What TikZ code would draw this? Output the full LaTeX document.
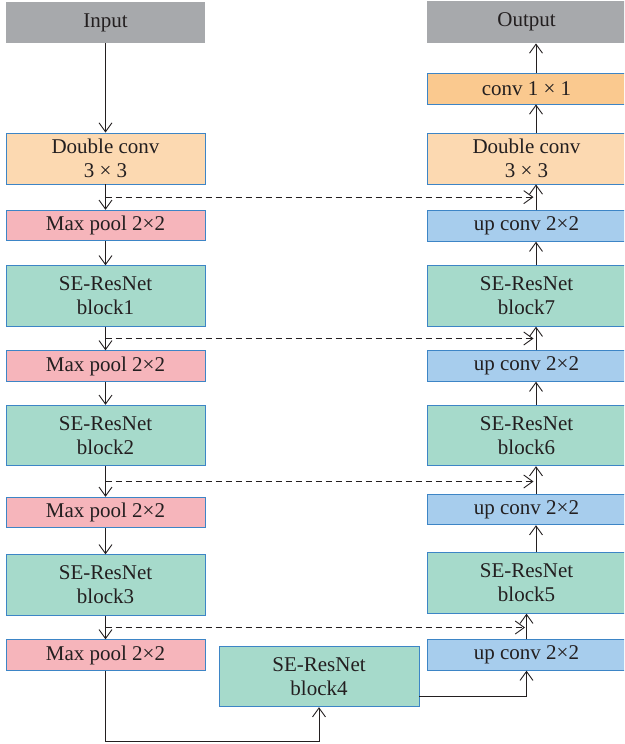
\documentclass[tikz,border=0pt]{standalone}
\usepackage{fontspec}
\setmainfont{Liberation Serif}
\usetikzlibrary{arrows.meta,calc}
\definecolor{grayfill}{HTML}{A7A9AC}
\definecolor{dcfill}{HTML}{FCD9B1}
\definecolor{convfill}{HTML}{FAC98F}
\definecolor{mpfill}{HTML}{F6B5BB}
\definecolor{sefill}{HTML}{A6DACB}
\definecolor{upfill}{HTML}{A7CDED}
\definecolor{bordc}{HTML}{3D85C6}
\definecolor{txt}{HTML}{231F20}
\begin{document}
\begin{tikzpicture}[x=1pt,y=-1pt,
  box/.style={rectangle, draw=bordc, line width=0.9pt, minimum width=199pt, inner sep=0pt, align=center, font=\fontsize{21}{24}\selectfont, text=txt},
  io/.style={box, draw=none, fill=grayfill, minimum height=41pt},
  dcbox/.style={box, fill=dcfill, minimum height=51pt},
  convbox/.style={box, fill=convfill, minimum height=31pt},
  mpbox/.style={box, fill=mpfill, minimum height=30.5pt},
  sebox/.style={box, fill=sefill, minimum height=60.5pt},
  upbox/.style={box, fill=upfill, minimum height=30.5pt},
  arr/.style={draw=txt, line width=0.9pt, -{Straight Barb[length=9pt,width=13pt]}},
  dsh/.style={arr, dash pattern=on 6pt off 4pt}]
\clip (0,0) rectangle (624,744);
\useasboundingbox (0,0) rectangle (624,744);
% left column
\node[io] (in) at (105.5,22.5) {Input};
\node[dcbox] (dc1) at (105.5,158.5) {Double conv\\3 × 3};
\node[mpbox] (mp1) at (105.5,225.5) {Max pool 2×2};
\node[sebox] (b1) at (105.5,296) {SE-ResNet\\block1};
\node[mpbox] (mp2) at (105.5,366) {Max pool 2×2};
\node[sebox] (b2) at (105.5,435.5) {SE-ResNet\\block2};
\node[mpbox] (mp3) at (105.5,512.5) {Max pool 2×2};
\node[sebox] (b3) at (105.5,585) {SE-ResNet\\block3};
\node[mpbox] (mp4) at (105.5,655) {Max pool 2×2};
% bottom
\node[sebox, minimum width=200pt] (b4) at (319,676.5) {SE-ResNet\\block4};
% right column
\node[io, minimum height=42pt] (out) at (526.5,22) {Output};
\node[convbox] (c11) at (526.5,88.5) {conv 1 × 1};
\node[dcbox] (dc2) at (526.5,158.5) {Double conv\\3 × 3};
\node[upbox] (up1) at (526.5,226) {up conv 2×2};
\node[sebox] (b7) at (526.5,296) {SE-ResNet\\block7};
\node[upbox] (up2) at (526.5,366) {up conv 2×2};
\node[sebox] (b6) at (526.5,435.5) {SE-ResNet\\block6};
\node[upbox] (up3) at (526.5,509.5) {up conv 2×2};
\node[sebox] (b5) at (526.5,583) {SE-ResNet\\block5};
\node[upbox] (up4) at (526.5,655) {up conv 2×2};
% left downward arrows
\draw[arr] (in) -- (dc1);
\draw[arr] (dc1) -- (mp1);
\draw[arr] (mp1) -- (b1);
\draw[arr] (b1) -- (mp2);
\draw[arr] (mp2) -- (b2);
\draw[arr] (b2) -- (mp3);
\draw[arr] (mp3) -- (b3);
\draw[arr] (b3) -- (mp4);
% bottom connections
\draw[arr] (mp4.south) -- ++(0,71) -| (b4.south);
\coordinate (b4out) at ([yshift=-19.5pt]b4.east);
\draw[arr] (b4out) -| (up4.south);
% right upward arrows
\draw[arr] ([xshift=9.5pt]c11.north) -- ([xshift=9.5pt]out.south);
\draw[arr] ([xshift=9.5pt]dc2.north) -- ([xshift=9.5pt]c11.south);
\draw[arr] ([xshift=9.5pt]up1.north) -- ([xshift=9.5pt]dc2.south);
\draw[arr] ([xshift=9.5pt]b7.north) -- ([xshift=9.5pt]up1.south);
\draw[arr] ([xshift=9.5pt]up2.north) -- ([xshift=9.5pt]b7.south);
\draw[arr] ([xshift=9.5pt]b6.north) -- ([xshift=9.5pt]up2.south);
\draw[arr] ([xshift=9.5pt]up3.north) -- ([xshift=9.5pt]b6.south);
\draw[arr] ([xshift=9.5pt]b5.north) -- ([xshift=9.5pt]up3.south);
\draw[arr] (up4.north) -- (b5.south);
% skip connections
\coordinate (s1) at ($(dc1.south)!0.5!(mp1.north)$);
\coordinate (e1) at ([xshift=7pt]dc2.south);
\draw[dsh] (s1) -- (s1 -| e1);
\coordinate (s2) at ($(b1.south)!0.5!(mp2.north)$);
\coordinate (e2) at ([xshift=7pt]b7.south);
\draw[dsh] (s2) -- (s2 -| e2);
\coordinate (s3) at ($(b2.south)!0.5!(mp3.north)$);
\coordinate (e3) at ([xshift=7pt]b6.south);
\draw[dsh] (s3) -- (s3 -| e3);
\coordinate (s4) at ($(b3.south)!0.5!(mp4.north)$);
\coordinate (e4) at ([xshift=-1.5pt]b5.south);
\draw[dsh] (s4) -- (s4 -| e4);
\end{tikzpicture}
\end{document}
